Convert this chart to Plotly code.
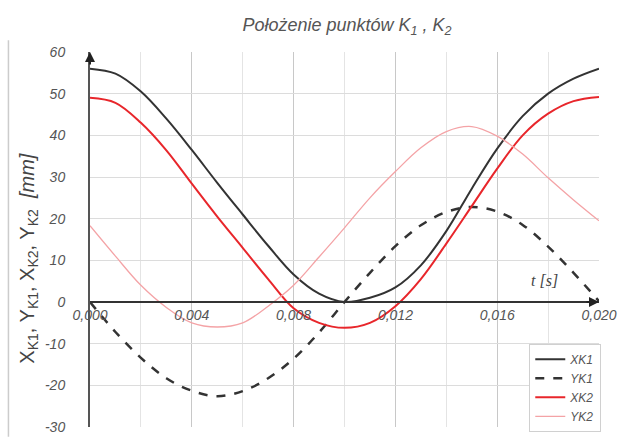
import plotly.graph_objects as go

t = [0.000, 0.001, 0.002, 0.003, 0.004, 0.005, 0.006, 0.007, 0.008, 0.009, 0.010,
     0.011, 0.012, 0.013, 0.014, 0.015, 0.016, 0.017, 0.018, 0.019, 0.020]
xk1 = [56.0, 54.8, 50.5, 44.0, 36.5, 28.6, 21.0, 13.5, 6.6, 2.0, 0.0,
       1.0, 3.5, 8.8, 17.0, 27.2, 36.8, 44.6, 50.0, 53.6, 56.0]
yk1 = [0.0, -7.2, -13.4, -18.3, -21.3, -22.6, -21.4, -18.3, -13.6, -7.3, 0.0,
       7.0, 13.4, 18.4, 21.6, 22.8, 21.7, 18.5, 13.3, 7.0, 0.2]
xk2 = [49.0, 47.8, 43.0, 36.4, 28.4, 20.5, 13.0, 5.5, -1.5, -5.0, -6.2,
       -5.0, -1.0, 5.5, 14.0, 23.0, 32.0, 40.0, 45.2, 48.2, 49.2]
yk2 = [18.3, 11.0, 4.0, -1.3, -5.0, -6.0, -5.0, -1.0, 4.0, 10.8, 17.8,
       25.0, 31.3, 37.0, 40.9, 42.1, 39.8, 35.5, 29.8, 24.5, 19.5]

names = ["XK1", "YK1", "XK2", "YK2"]
title_text = "Położenie punktów K<sub>1</sub> , K<sub>2</sub>"
ytitle_text = "X<sub>K1</sub>, Y<sub>K1</sub>, X<sub>K2</sub>, Y<sub>K2</sub>  <i>[mm]</i>"
xtitle_text = "t [s]"
y_ticks = [-30, -20, -10, 0, 10, 20, 30, 40, 50, 60]
y_ticklabels = ["-30", "-20", "-10", "0", "10", "20", "30", "40", "50", "60"]

H = 445
T, B = 52, 10
PH = H - T - B

fig = go.Figure()
fig.add_trace(go.Scatter(x=t, y=xk1, name=names[0], mode="lines",
                         line=dict(color="#333333", width=2, shape="spline")))
fig.add_trace(go.Scatter(x=t, y=yk1, name=names[1], mode="lines",
                         line=dict(color="#333333", width=2.5, dash="dash", shape="spline")))
fig.add_trace(go.Scatter(x=t, y=xk2, name=names[2], mode="lines",
                         line=dict(color="#e8262b", width=2, shape="spline")))
fig.add_trace(go.Scatter(x=t, y=yk2, name=names[3], mode="lines",
                         line=dict(color="#f4a3a6", width=1.3, shape="spline")))

fig.update_layout(
    width=627, height=H,
    margin=dict(l=90, r=19, t=T, b=B),
    paper_bgcolor="white", plot_bgcolor="white",
    separators=", ",
    font=dict(family="Liberation Sans, Arial, sans-serif", color="#555555"),
    title=dict(text=title_text, x=0.505, xref="paper", y=1 - 25 / H, yanchor="middle",
               xanchor="center",
               font=dict(size=18, style="italic", color="#555555")),
    showlegend=True,
    legend=dict(x=0.863, y=(H - B - 350) / PH, xanchor="left", yanchor="top",
                bgcolor="white", bordercolor="#d0d0d0", borderwidth=1,
                font=dict(size=12, style="italic", color="#555555"),
                itemwidth=30, tracegroupgap=0),
    xaxis=dict(range=[0, 0.02], anchor="free", position=1 / 3,
               dtick=0.004, tick0=0, tickformat=".3f",
               showline=True, linecolor="#333333", linewidth=2,
               showgrid=True, gridcolor="#c8c8c8", gridwidth=1,
               minor=dict(dtick=0.002, tick0=0, showgrid=True, gridcolor="#e4e4e4", gridwidth=1),
               zeroline=False, ticks="",
               tickfont=dict(size=14, style="italic", color="#555555")),
    yaxis=dict(range=[-30, 60], tickmode="array", tickvals=y_ticks, ticktext=y_ticklabels,
               showline=True, linecolor="#555555", linewidth=2,
               showgrid=True, gridcolor="#dcdcdc", gridwidth=1,
               zeroline=False, ticks="", ticklabelstandoff=20,
               tickfont=dict(size=14, style="italic", color="#555555")),
)

fig.add_shape(type="line", xref="paper", yref="paper",
              x0=(7 - 90) / 518, x1=(7 - 90) / 518, y0=-B / PH, y1=(H - B - 40) / PH,
              line=dict(color="#cccccc", width=1.5))
fig.add_annotation(x=0.02, y=0, xref="x", yref="y", ax=-14, ay=0, axref="pixel", ayref="pixel",
                   text="", showarrow=True, arrowhead=2, arrowsize=1, arrowwidth=2, arrowcolor="#222222")
fig.add_annotation(x=0, y=60, xref="x", yref="y", ax=0, ay=14, axref="pixel", ayref="pixel",
                   text="", showarrow=True, arrowhead=2, arrowsize=1, arrowwidth=2, arrowcolor="#222222")
fig.add_annotation(x=0.01784, y=5.1, xref="x", yref="y", text=xtitle_text, showarrow=False,
                   font=dict(family="Liberation Serif, Times New Roman, serif", size=16,
                             style="italic", color="#444444"))
fig.add_annotation(x=(27 - 90) / 518, y=(H - B - 263) / PH, xref="paper", yref="paper",
                   xanchor="center", yanchor="middle",
                   text=ytitle_text, textangle=-90, showarrow=False,
                   font=dict(size=20, color="#444444"))

fig.write_html("out.html")
